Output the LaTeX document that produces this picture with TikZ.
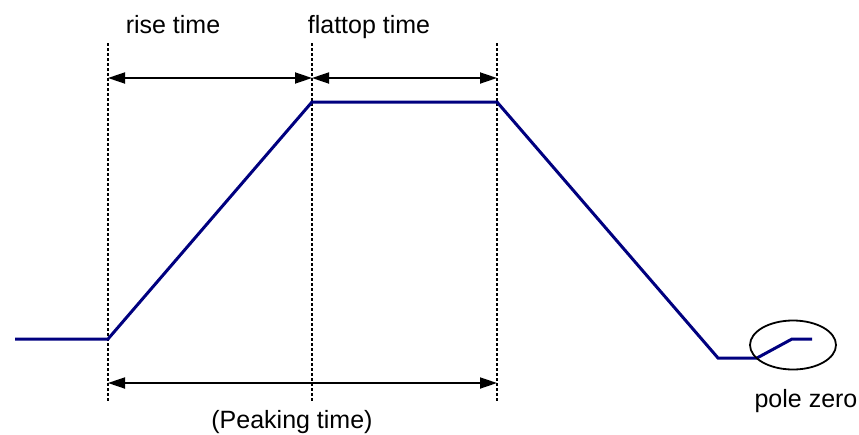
\documentclass[tikz,border=0pt]{standalone}
\usepackage{fontspec}
\setmainfont{Liberation Sans}
\usetikzlibrary{positioning,arrows.meta,shapes.geometric}
\definecolor{pulse}{HTML}{00007F}
\tikzset{
  marker/.style={black,line width=1.3pt,dash pattern=on 3pt off 2pt},
  span/.style={black,line width=1.8pt,{Triangle[length=17pt,width=11pt]}-{Triangle[length=17pt,width=11pt]}},
  shaper/.style={pulse,line width=3pt,line join=miter},
  pzring/.style={draw,black,line width=1.8pt,ellipse,minimum width=86pt,minimum height=49pt,inner sep=0pt}
}
\begin{document}
\begin{tikzpicture}[x=1pt,y=-1pt,font=\fontsize{25}{29}\selectfont]
  \useasboundingbox (0,0) rectangle (859,434);
  % dotted time markers
  \foreach \n/\x in {start/108,flat/312,fall/497}{
    \coordinate (\n-top) at (\x,43); \coordinate (\n-bot) at (\x,402);
    \coordinate (\n-up) at (\x,78); \coordinate (\n-low) at (\x,383);
    \draw[marker] (\n-top)--(\n-bot);}
  \draw[span] (start-up)--(flat-up);
  \draw[span] (flat-up)--(fall-up);
  \draw[span] (start-low)--(fall-low);
  \node[anchor=base] (rise) at (173,33) {rise time};
  \node[anchor=base] (flattop) at (369,33) {flattop time};
  \node[anchor=base] (peak) at (292,428) {(Peaking time)};
  % shaped pulse
  \coordinate (s0) at (15,339); \coordinate (s1) at (108,339); \coordinate (s2) at (312,102);
  \coordinate (s3) at (497,102); \coordinate (s4) at (718,358); \coordinate (s5) at (757,358);
  \coordinate (s6) at (792,339); \coordinate (s7) at (812,339);
  \draw[shaper] (s0)--(s1)--(s2)--(s3)--(s4)--(s5)--(s6)--(s7);
  \node[pzring] (pz) at (793,345) {};
  \node[anchor=base] (pzlabel) at (806,407) {pole zero};
\end{tikzpicture}
\end{document}
